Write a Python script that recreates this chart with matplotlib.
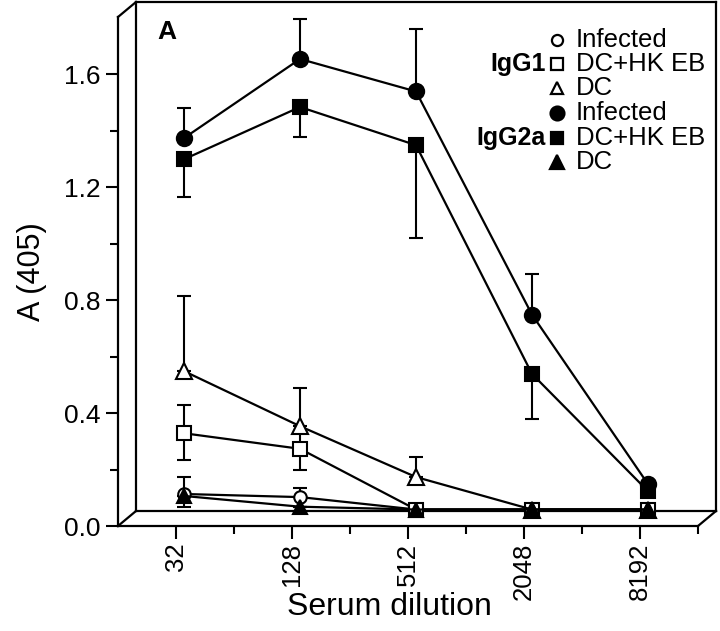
import numpy as np
import matplotlib.pyplot as plt
from matplotlib.lines import Line2D
from matplotlib.ticker import NullFormatter
from matplotlib.transforms import offset_copy

plt.rcParams['font.family'] = ['Liberation Sans', 'DejaVu Sans']

# serum dilution (x)
dilution = [32, 128, 512, 2048, 8192]
dilution_labels = ['32', '128', '512', '2048', '8192']

# IgG1 (open markers)
g1_infected = [0.085, 0.074, 0.03, 0.03, 0.03]
g1_infected_up = [0.06, 0.032, 0, 0, 0]
g1_infected_dn = [0.045, 0, 0, 0, 0]
g1_dchk = [0.30, 0.245, 0.03, 0.03, 0.03]
g1_dchk_up = [0.10, 0.06, 0, 0, 0]
g1_dchk_dn = [0.095, 0.075, 0, 0, 0]
g1_dc = [0.52, 0.325, 0.145, 0.03, 0.03]
g1_dc_up = [0.265, 0.135, 0.07, 0, 0]
g1_dc_dn = [0, 0, 0, 0, 0]

# IgG2a (filled markers)
g2_infected = [1.345, 1.625, 1.51, 0.72, 0.12]
g2_infected_up = [0.105, 0.14, 0.22, 0.145, 0]
g2_infected_dn = [0, 0, 0, 0, 0]
g2_dchk = [1.27, 1.455, 1.32, 0.51, 0.095]
g2_dchk_up = [0, 0, 0, 0, 0]
g2_dchk_dn = [0.135, 0.105, 0.33, 0.16, 0]
g2_dc = [0.078, 0.04, 0.03, 0.03, 0.03]
g2_dc_up = [0, 0, 0, 0, 0]
g2_dc_dn = [0, 0, 0, 0, 0]

yticks = [0.0, 0.4, 0.8, 1.2, 1.6]

W, H = 720, 631
fig = plt.figure(figsize=(7.2, 6.31), dpi=100)
# front plane of the box
ax = fig.add_axes([118 / W, 1 - 526 / H, 580 / W, 509 / H])
ax.set_xscale('log', base=2)
ax.set_xlim(16, 16384)
ax.set_ylim(0, 1.802)

# data sit a bit behind the front plane
tr = offset_copy(ax.transData, fig=fig, x=8, y=8, units='dots')

series = [
    (g1_infected, g1_infected_up, g1_infected_dn, 'o', 'white', 9),
    (g1_dchk, g1_dchk_up, g1_dchk_dn, 's', 'white', 10),
    (g1_dc, g1_dc_up, g1_dc_dn, '^', 'white', 11),
    (g2_infected, g2_infected_up, g2_infected_dn, 'o', 'black', 11),
    (g2_dchk, g2_dchk_up, g2_dchk_dn, 's', 'black', 10),
    (g2_dc, g2_dc_up, g2_dc_dn, '^', 'black', 10),
]
for vals, up, dn, mk, fc, ms in series:
    ax.errorbar(dilution, vals, yerr=[dn, up], fmt='none', ecolor='black',
                elinewidth=1.5, capsize=5, capthick=1.5, transform=tr,
                clip_on=False, zorder=2)
    ax.plot(dilution, vals, color='black', lw=1.6, marker=mk, ms=ms,
            mfc=fc, mec='black', mew=1.5, transform=tr, clip_on=False,
            zorder=3)

# axes and ticks
for s in ['top', 'right']:
    ax.spines[s].set_visible(False)
for s in ['left', 'bottom']:
    ax.spines[s].set_linewidth(1.6)
ax.set_xticks(dilution)
ax.set_xticklabels(dilution_labels, rotation=90, fontsize=18.5)
ax.set_xticks([64, 256, 1024, 4096, 16384], minor=True)
ax.xaxis.set_minor_formatter(NullFormatter())
ax.set_yticks(yticks)
ax.set_yticklabels(['%.1f' % v for v in yticks], fontsize=19)
ax.set_yticks(np.arange(0.2, 1.8, 0.4), minor=True)
ax.yaxis.set_minor_formatter(NullFormatter())
ax.tick_params(which='major', length=9, width=1.5, direction='out')
ax.tick_params(which='minor', length=6, width=1.5, direction='out')
ax.tick_params(axis='x', pad=3)
ax.set_xlabel('Serum dilution', fontsize=23)
ax.xaxis.label.set_va('center')
ax.xaxis.set_label_coords((389 - 118) / 580, -(607 - 526) / 509)
ax.set_ylabel('A (405)', fontsize=22, labelpad=12)

# back wall and floor of the box
dx, dy = 18 / 580, 15 / 509
box = [
    ([dx, dx], [dy, 1 + dy]),
    ([dx, 1 + dx], [1 + dy, 1 + dy]),
    ([1 + dx, 1 + dx], [dy, 1 + dy]),
    ([dx, 1 + dx], [dy, dy]),
    ([0, dx], [1, 1 + dy]),
    ([0, dx], [0, dy]),
    ([1, 1 + dx], [0, dy]),
]
for xs, ys in box:
    ax.add_line(Line2D(xs, ys, color='black', lw=1.6, transform=ax.transAxes,
                       clip_on=False, zorder=1))

fig.text(157 / W, 1 - 32 / H, 'A', fontsize=19, fontweight='bold',
         va='center')

# legend
legend_rows = [
    ('o', 'white', 8, 'Infected', 40),
    ('s', 'white', 8, 'DC+HK EB', 64),
    ('^', 'white', 8, 'DC', 88),
    ('o', 'black', 10, 'Infected', 113),
    ('s', 'black', 9, 'DC+HK EB', 138),
    ('^', 'black', 10, 'DC', 162),
]
for mk, fc, ms, label, yy in legend_rows:
    fig.add_artist(Line2D([557 / W], [1 - yy / H], marker=mk, ms=ms, mfc=fc,
                          mec='black', mew=1.6, ls='none',
                          transform=fig.transFigure))
    fig.text(576 / W, 1 - yy / H, label, fontsize=18.5, va='center')
fig.text(546 / W, 1 - 64 / H, 'IgG1', fontsize=18, fontweight='bold',
         va='center', ha='right')
fig.text(546 / W, 1 - 138 / H, 'IgG2a', fontsize=18, fontweight='bold',
         va='center', ha='right')

fig.savefig('out.png', dpi=100)
